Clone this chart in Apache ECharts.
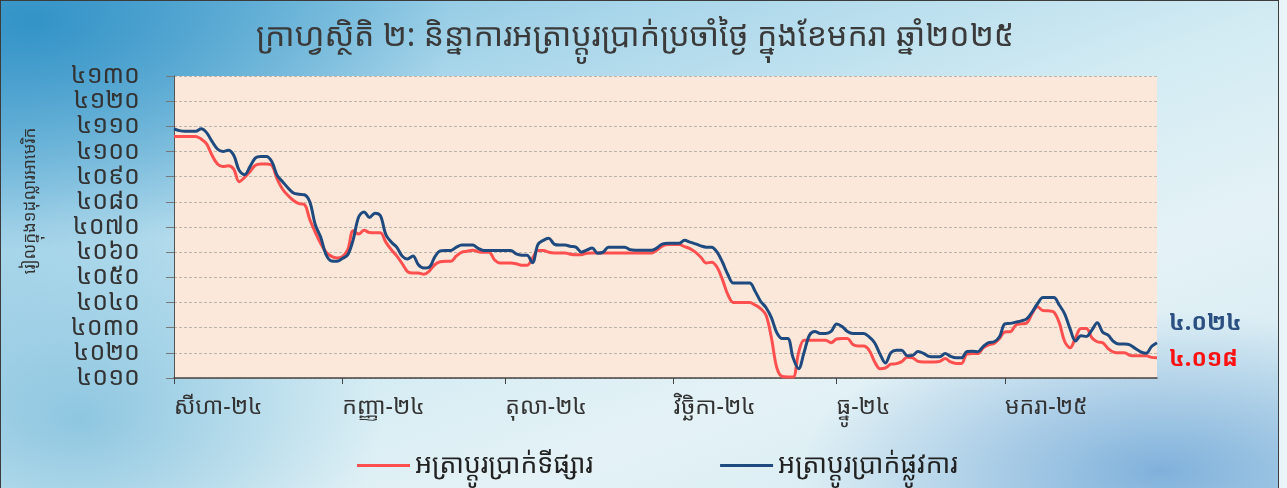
<!DOCTYPE html>
<html>
<head>
<meta charset="utf-8">
<script src="https://cdn.jsdelivr.net/npm/echarts@6/dist/echarts.min.js"></script>
<style>
  html, body { margin: 0; padding: 0; background: #e9f5f8; }
  #wrap {
    position: absolute; left: 0; top: 0; width: 1279px; height: 488px;
    box-sizing: border-box; border: 1px solid #3c3c3c; border-bottom: none;
    background:
      radial-gradient(ellipse 420px 230px at 30px 20px, rgba(40,140,195,0.85), rgba(40,140,195,0) 100%),
      radial-gradient(ellipse 360px 160px at 1160px 470px, rgba(60,130,200,0.55), rgba(60,130,200,0) 100%),
      radial-gradient(ellipse 300px 200px at 80px 420px, rgba(90,170,210,0.55), rgba(90,170,210,0) 100%),
      linear-gradient(160deg, #6db8dc 0%, #a9d6ea 25%, #d2ebf3 50%, #e4f2f6 70%, #cfe8f1 100%);
  }
  #chart { position: absolute; left: 0; top: 0; width: 1279px; height: 488px; }
</style>
</head>
<body>
<div id="wrap"><div id="chart"></div></div>
<script>
// ---- data ----
const titleText = 'ក្រាហ្វស្ថិតិ ២: និន្នាការអត្រាប្តូរប្រាក់ប្រចាំថ្ងៃ ក្នុងខែមករា ឆ្នាំ២០២៥';
const yAxisName = 'រៀលក្នុង១ដុល្លារអាមេរិក';
const startDate = '2024-08-01';
const monthLabels = ['សីហា-២៤', 'កញ្ញា-២៤', 'តុលា-២៤', 'វិច្ឆិកា-២៤', 'ធ្នូ-២៤', 'មករា-២៥'];
const seriesNames = ['អត្រាប្តូរប្រាក់ទីផ្សារ', 'អត្រាប្តូរប្រាក់ផ្លូវការ'];

const officialRate = [
  4109, 4108.3, 4108, 4108, 4108, 4109, 4107.5, 4104, 4101, 4100,
  4100.5, 4098.5, 4092.5, 4090.8, 4094, 4097.5, 4098, 4098, 4096, 4090.5,
  4088, 4085.5, 4083.5, 4083, 4082.8, 4080, 4071, 4066, 4059, 4056.5,
  4056.4, 4057.5, 4059, 4065, 4074, 4076, 4073.8, 4075.5, 4074.5, 4067,
  4064, 4062, 4058.5, 4057.3, 4058.5, 4055, 4053.7, 4054, 4058, 4060.5,
  4060.7, 4060.7, 4062, 4062.8, 4062.8, 4062.8, 4061.5, 4060.7, 4060.7, 4060.7,
  4060.7, 4060.7, 4060.7, 4059.3, 4058.8, 4058.8, 4055.8, 4063, 4064.7, 4065.5,
  4063.2, 4062.8, 4062.8, 4062.3, 4062, 4060, 4060.8, 4061.7, 4059.6, 4060,
  4062, 4062, 4062, 4062, 4061, 4060.8, 4060.8, 4060.8, 4060.8, 4061.8,
  4063.3, 4063.5, 4063.5, 4063.5, 4064.7, 4064, 4063.3, 4062.5, 4062, 4062,
  4060, 4056, 4051, 4047.7, 4047.7, 4047.7, 4047.7, 4044.5, 4040.5, 4038,
  4034, 4028, 4025.7, 4025.7, 4018, 4013.7, 4020, 4027, 4028.5, 4027.7,
  4027.7, 4028.5, 4031.5, 4030.5, 4028.5, 4027.7, 4027.7, 4027.7, 4026.3, 4024,
  4019.5, 4016, 4020, 4021, 4021, 4018.8, 4019, 4020.5, 4019.8, 4018.6,
  4018.4, 4018.4, 4019.7, 4018.6, 4018, 4018, 4020.5, 4020.6, 4020.4, 4022.5,
  4024.1, 4024.4, 4026.4, 4031.5, 4031.7, 4032.2, 4032.7, 4033.5, 4036.2, 4039.5,
  4042, 4042, 4042, 4039, 4035.5, 4029.5, 4024.7, 4026.8, 4026.5, 4029,
  4032, 4028.2, 4027, 4024.5, 4023.5, 4023.5, 4023.2, 4021.7, 4020.4, 4019.8,
  4022.5, 4024
];

const marketRate = [
  4106, 4106, 4106, 4106, 4106, 4105, 4103, 4098.5, 4095, 4094,
  4094.3, 4093, 4088, 4089.7, 4092, 4094.5, 4095, 4095, 4094.5, 4089,
  4085, 4082.5, 4080.5, 4079.3, 4079, 4073, 4068, 4063.5, 4060, 4058.3,
  4057.7, 4058.2, 4061, 4068.5, 4067.2, 4068.7, 4067.8, 4067.7, 4067.7, 4064,
  4061, 4058.5, 4055.5, 4052.3, 4051.7, 4051.7, 4051.2, 4052.5, 4055, 4056.2,
  4056.4, 4056.4, 4058.5, 4060, 4060.4, 4060.8, 4060.2, 4060, 4060, 4057,
  4055.7, 4055.7, 4055.7, 4055.4, 4054.8, 4054.8, 4057.5, 4060.7, 4060.7, 4060,
  4059.7, 4059.7, 4059.7, 4059.2, 4059, 4059, 4059.6, 4059.7, 4059.7, 4059.7,
  4059.7, 4059.7, 4059.7, 4059.7, 4059.7, 4059.7, 4059.7, 4059.7, 4059.7, 4061,
  4062.5, 4063, 4063, 4063, 4062.2, 4061.4, 4060, 4058, 4055.7, 4056,
  4054, 4049, 4043, 4040, 4040, 4040, 4040, 4039, 4037.6, 4035,
  4026, 4014, 4010.6, 4010.4, 4010.4, 4020, 4025, 4025, 4025, 4025,
  4025, 4024, 4025.5, 4025.7, 4025.7, 4023.3, 4022.7, 4022.7, 4021, 4016.5,
  4013.7, 4014, 4015.5, 4015.7, 4016.5, 4018.2, 4018, 4016.6, 4016.4, 4016.4,
  4016.4, 4016.6, 4017.7, 4016.4, 4015.8, 4015.8, 4019.5, 4019.7, 4019.7, 4022,
  4023.2, 4023.7, 4025.7, 4028.3, 4028.4, 4031, 4031.5, 4031.8, 4035.6, 4038.3,
  4036.8, 4036.7, 4036.2, 4032, 4024.5, 4022, 4026, 4029.7, 4029.7, 4026,
  4024.4, 4024, 4021.7, 4020.3, 4020, 4020, 4019, 4018.8, 4018.8, 4018.8,
  4018.2, 4018
];

// ---- helpers ----
const khDigits = '០១២៣៤៥៦៧៨៩';
function toKh(s) { return String(s).replace(/[0-9]/g, d => khDigits[+d]); }

const dates = [];
(function () {
  const d0 = new Date(startDate + 'T00:00:00Z');
  for (let i = 0; i < marketRate.length; i++) {
    const d = new Date(d0.getTime() + i * 86400000);
    dates.push(d.toISOString().slice(0, 10));
  }
})();
const isMonthStart = (idx, val) => val.slice(8, 10) === '01';
function monthLabel(val) {
  const y = +val.slice(0, 4), m = +val.slice(5, 7);
  return monthLabels[(y - 2024) * 12 + m - 8];
}

const FONT = "'Noto Sans Khmer', 'Khmer OS', 'Noto Serif Khmer', 'Noto Sans', sans-serif";
const RED = '#ff4f4f', BLUE = '#1f4a7f';

const chart = echarts.init(document.getElementById('chart'), null, { renderer: 'canvas' });
chart.setOption({
  backgroundColor: 'transparent',
  animation: false,
  textStyle: { fontFamily: FONT },
  grid: { left: 173, right: 123, top: 75, bottom: 111, show: true, backgroundColor: '#fbe8da', borderWidth: 0 },
  graphic: [
    { type: 'text', x: 634, y: 36, style: { text: titleText, fill: '#3a3a3a', font: '32px ' + FONT, textAlign: 'center', textVerticalAlign: 'middle', align: 'center', verticalAlign: 'middle' } },
    { type: 'text', x: 29, y: 200, rotation: Math.PI / 2, style: { text: yAxisName, fill: '#333', font: '17px ' + FONT, textAlign: 'center', textVerticalAlign: 'middle', align: 'center', verticalAlign: 'middle' } }
  ],
  legend: {
    left: 351, top: 446, itemWidth: 53, itemHeight: 3, itemGap: 127,
    icon: 'rect',
    textStyle: { fontSize: 26.5, color: '#222', fontFamily: FONT },
    data: seriesNames
  },
  xAxis: {
    type: 'category', data: dates, boundaryGap: false,
    axisLine: { lineStyle: { color: '#444', width: 1.5 } },
    axisTick: { interval: isMonthStart, length: 6, lineStyle: { color: '#444' } },
    axisLabel: { interval: isMonthStart, formatter: monthLabel, align: 'left', margin: 18, fontSize: 23, color: '#333', fontFamily: FONT },
    splitLine: { show: false }
  },
  yAxis: {
    type: 'value', min: 4010, max: 4130, interval: 10,
    axisLine: { show: true, lineStyle: { color: '#555' } },
    axisTick: { show: true, length: 8, lineStyle: { color: '#777' } },
    axisLabel: { formatter: v => toKh(v), fontSize: 25, color: '#333', margin: 34, fontFamily: FONT },
    splitLine: { lineStyle: { color: '#bcb5ae', type: [3, 2] } }
  },
  series: [
    {
      name: seriesNames[0], type: 'line', data: marketRate, smooth: 0.35, symbol: 'none',
      lineStyle: { color: RED, width: 3 }, itemStyle: { color: RED }, z: 2,
      endLabel: { show: true, formatter: p => toKh((p.value / 1000).toFixed(3)), offset: [4, 2], color: '#ff1010', fontSize: 23, fontWeight: 'bold', fontFamily: FONT }
    },
    {
      name: seriesNames[1], type: 'line', data: officialRate, smooth: 0.35, symbol: 'none',
      lineStyle: { color: BLUE, width: 3 }, itemStyle: { color: BLUE }, z: 3,
      endLabel: { show: true, formatter: p => toKh((p.value / 1000).toFixed(3)), offset: [4, -19], color: '#2a4f80', fontSize: 23, fontWeight: 'bold', fontFamily: FONT }
    }
  ]
});
</script>
</body>
</html>
